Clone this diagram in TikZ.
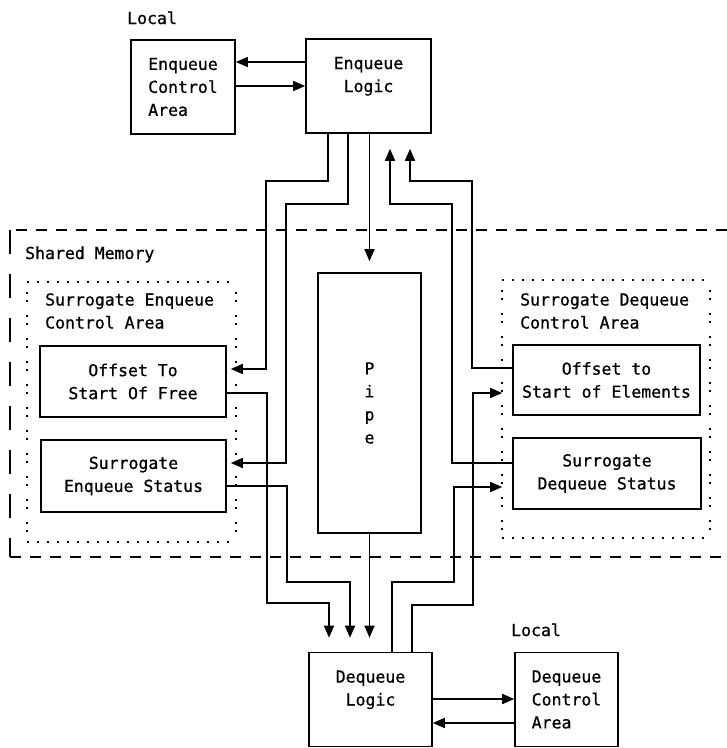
\documentclass[tikz,border=0pt]{standalone}
\usepackage{fontspec}
\usetikzlibrary{arrows.meta}
\newfontfamily\diamono[FakeBold=0.8]{DejaVu Sans Mono}
\newcommand\diatxt{\diamono\fontsize{16.5}{23}\selectfont}
\tikzset{
  box/.style={draw, line width=1.6pt, inner sep=0pt, font=\diatxt, align=center},
  lbox/.style={box, align=left},
  lbl/.style={inner sep=0pt, font=\diatxt, align=left},
  arr/.style={line width=1.6pt, -{Triangle[length=12pt,width=10pt]}},
  ln/.style={line width=1.6pt},
  shared/.style={line width=1.4pt, dash pattern=on 11pt off 9pt},
  sharedside/.style={line width=1.4pt, dash pattern=on 24pt off 20pt},
  dotrow/.style={line width=2.2pt, dash pattern=on 2pt off 8pt},
  dotcol/.style={line width=2.2pt, dash pattern=on 2pt off 6pt on 2pt off 13pt, dash phase=-10pt},
  area/.style={inner sep=0pt},
}
\begin{document}
\begin{tikzpicture}[x=1pt,y=-1pt]
\useasboundingbox (0,0) rectangle (727,748);

% shared memory region
\draw[shared] (727,230) -- (10,230);
\draw[shared] (10,557) -- (727,557);
\draw[sharedside] (10,230) -- (10,557);
\node[lbl, anchor=base west] (shm) at (25,259) {Shared Memory};

% local labels
\node[lbl, anchor=base west] (loc1) at (127,24) {Local};
\node[lbl, anchor=base west] (loc2) at (511,636) {Local};

% top boxes
\node[lbox, minimum width=104pt, minimum height=94pt] (ecl) at (183,87) {Enqueue\\Control\\Area};
\node[box, minimum width=125pt, minimum height=94pt] (el) at (368.5,86) {Enqueue\\Logic\\~};

% pipe
\node[box, minimum width=103pt, minimum height=260pt] (pipe) at (369.5,403) {P\\i\\p\\e};

% surrogate enqueue control area
\node[area, minimum width=209pt, minimum height=260pt] (sea) at (131.5,412) {};
\draw[dotrow] (sea.north west) -- (sea.north east);
\draw[dotrow] (sea.south west) -- (sea.south east);
\draw[dotcol] (sea.north west) -- (sea.south west);
\draw[dotcol] (sea.north east) -- (sea.south east);
\node[lbl, anchor=west] (seat) at (45,311) {Surrogate Enqueue\\Control Area};
\node[box, minimum width=186pt, minimum height=71pt] (osf) at (133,381.5) {Offset To\\Start Of Free};
\node[box, minimum width=185pt, minimum height=72pt] (ses) at (133.5,476) {Surrogate\\Enqueue Status};

% surrogate dequeue control area
\node[area, minimum width=208pt, minimum height=258pt] (sda) at (606,409) {};
\draw[dotrow] (sda.north west) -- (sda.north east);
\draw[dotrow] (sda.south west) -- (sda.south east);
\draw[dotcol] (sda.north west) -- (sda.south west);
\draw[dotcol] (sda.north east) -- (sda.south east);
\node[lbl, anchor=west] (sdat) at (520,311) {Surrogate Dequeue\\Control Area};
\node[box, minimum width=187pt, minimum height=70pt] (ose) at (606.5,380) {Offset to\\Start of Elements};
\node[box, minimum width=188pt, minimum height=71pt] (sds) at (607,473.5) {Surrogate\\Dequeue Status};

% bottom boxes
\node[box, minimum width=123pt, minimum height=94pt] (dl) at (370.5,699.5) {Dequeue\\Logic\\~};
\node[lbox, minimum width=103pt, minimum height=94pt] (dca) at (566.5,699.5) {Dequeue\\Control\\Area};

% top local arrows
\draw[arr] (el.west |- 0,62) -- (ecl.east |- 0,62);
\draw[arr] (ecl.east |- 0,86) -- (el.west |- 0,86);

% enqueue logic to shared memory
\draw[arr, shorten >=4pt] (el.south -| 328,0) |- (266,181) |- (osf.east |- 0,369);
\draw[arr, shorten >=4pt] (el.south -| 348,0) |- (286,204) |- (ses.east |- 0,463);
\draw[arr, shorten >=11pt] (el.south -| pipe.north) -- (pipe.north);
\draw[arr, shorten >=15pt] (sds.west |- 0,463) -| (452,204) -| (el.south -| 390,0);
\draw[arr, shorten >=15pt] (ose.west |- 0,368) -| (472,181) -| (el.south -| 410,0);

% shared memory to dequeue logic
\draw[arr, shorten >=14pt] (osf.east |- 0,393) -| (267,603) -| (dl.north -| 329,0);
\draw[arr, shorten >=14pt] (ses.east |- 0,486) -| (287,582) -| (dl.north -| 350,0);
\draw[arr, shorten >=14pt] (pipe.south) -- (pipe.south |- dl.north);
\draw[arr, shorten >=10pt] (dl.north -| 392,0) |- (454,582) |- (sds.west |- 0,487);
\draw[arr, shorten >=10pt] (dl.north -| 412,0) |- (473,605) |- (ose.west |- 0,393);

% bottom local arrows
\draw[arr] (dl.east |- 0,699) -- (dca.west |- 0,699);
\draw[arr] (dca.west |- 0,723) -- (dl.east |- 0,723);
\end{tikzpicture}
\end{document}
